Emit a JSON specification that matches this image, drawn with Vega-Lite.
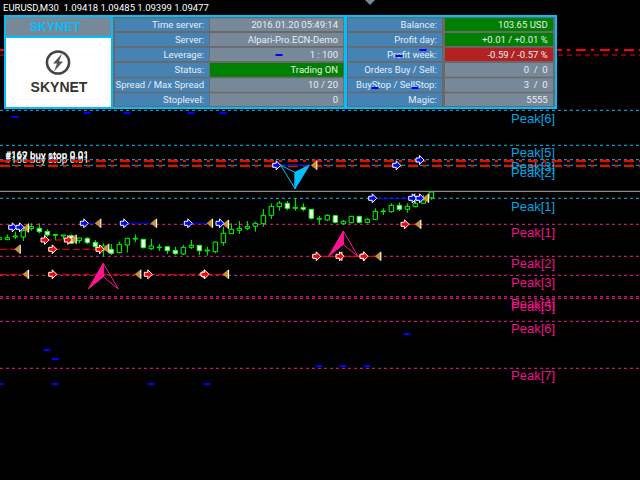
{
"$schema":"https://vega.github.io/schema/vega-lite/v6.json",
"autosize":{"type":"none"},
"width":640,"height":480,"padding":0,"background":"#000000",
"config":{"view":{"stroke":null}},
"datasets":{
"levels":[{"y":1.10294,"side":"buy"},{"y":1.09944,"side":"buy"},{"y":1.09800,"side":"buy"},{"y":1.09744,"side":"buy"},{"y":1.09414,"side":"buy"},{"y":1.09154,"side":"sell"},{"y":1.08834,"side":"sell"},{"y":1.08644,"side":"sell"},{"y":1.08430,"side":"sell"},{"y":1.08414,"side":"sell"},{"y":1.08184,"side":"sell"},{"y":1.07714,"side":"sell"}],
"candles":[
{"x":0,"high":1.09047,"open":1.09000,"close":1.09020,"low":1.08997},
{"x":1,"high":1.09053,"open":1.09000,"close":1.09020,"low":1.08997},
{"x":2,"high":1.09080,"open":1.09027,"close":1.09037,"low":1.09007},
{"x":3,"high":1.09117,"open":1.09027,"close":1.09090,"low":1.08987},
{"x":4,"high":1.09164,"open":1.09110,"close":1.09130,"low":1.09090},
{"x":5,"high":1.09164,"open":1.09114,"close":1.09080,"low":1.09064},
{"x":6,"high":1.09104,"open":1.09084,"close":1.09047,"low":1.09030},
{"x":7,"high":1.09053,"open":1.09044,"close":1.09053,"low":1.08997},
{"x":8,"high":1.09047,"open":1.09037,"close":1.09047,"low":1.09004},
{"x":9,"high":1.09053,"open":1.09040,"close":1.08964,"low":1.08957},
{"x":10,"high":1.09017,"open":1.08990,"close":1.09017,"low":1.08964},
{"x":11,"high":1.09024,"open":1.09014,"close":1.08970,"low":1.08957},
{"x":12,"high":1.08997,"open":1.08974,"close":1.08930,"low":1.08914},
{"x":13,"high":1.08964,"open":1.08897,"close":1.08937,"low":1.08831},
{"x":14,"high":1.08957,"open":1.08904,"close":1.08864,"low":1.08847},
{"x":15,"high":1.08981,"open":1.08871,"close":1.08954,"low":1.08864},
{"x":16,"high":1.09014,"open":1.08947,"close":1.09014,"low":1.08871},
{"x":17,"high":1.09053,"open":1.09007,"close":1.09014,"low":1.08974},
{"x":18,"high":1.09007,"open":1.09004,"close":1.08920,"low":1.08914},
{"x":19,"high":1.09007,"open":1.08910,"close":1.08937,"low":1.08897},
{"x":20,"high":1.08957,"open":1.08920,"close":1.08927,"low":1.08887},
{"x":21,"high":1.08930,"open":1.08930,"close":1.08890,"low":1.08857},
{"x":22,"high":1.08930,"open":1.08894,"close":1.08860,"low":1.08847},
{"x":23,"high":1.08947,"open":1.08857,"close":1.08924,"low":1.08847},
{"x":24,"high":1.08997,"open":1.08924,"close":1.08944,"low":1.08907},
{"x":25,"high":1.08944,"open":1.08944,"close":1.08890,"low":1.08847},
{"x":26,"high":1.08930,"open":1.08887,"close":1.08897,"low":1.08840},
{"x":27,"high":1.08981,"open":1.08880,"close":1.08977,"low":1.08864},
{"x":28,"high":1.09130,"open":1.08970,"close":1.09064,"low":1.08940},
{"x":29,"high":1.09164,"open":1.09060,"close":1.09104,"low":1.09057},
{"x":30,"high":1.09187,"open":1.09094,"close":1.09114,"low":1.09057},
{"x":31,"high":1.09187,"open":1.09114,"close":1.09134,"low":1.09097},
{"x":32,"high":1.09180,"open":1.09134,"close":1.09164,"low":1.09080},
{"x":33,"high":1.09307,"open":1.09160,"close":1.09244,"low":1.09130},
{"x":34,"high":1.09364,"open":1.09244,"close":1.09334,"low":1.09207},
{"x":35,"high":1.09387,"open":1.09330,"close":1.09367,"low":1.09290},
{"x":36,"high":1.09387,"open":1.09364,"close":1.09314,"low":1.09297},
{"x":37,"high":1.09414,"open":1.09314,"close":1.09324,"low":1.09290},
{"x":38,"high":1.09364,"open":1.09324,"close":1.09304,"low":1.09284},
{"x":39,"high":1.09307,"open":1.09304,"close":1.09214,"low":1.09204},
{"x":40,"high":1.09237,"open":1.09204,"close":1.09214,"low":1.09157},
{"x":41,"high":1.09254,"open":1.09197,"close":1.09244,"low":1.09187},
{"x":42,"high":1.09247,"open":1.09240,"close":1.09174,"low":1.09164},
{"x":43,"high":1.09197,"open":1.09160,"close":1.09184,"low":1.09147},
{"x":44,"high":1.09237,"open":1.09170,"close":1.09234,"low":1.09164},
{"x":45,"high":1.09237,"open":1.09234,"close":1.09174,"low":1.09164},
{"x":46,"high":1.09214,"open":1.09174,"close":1.09204,"low":1.09164},
{"x":47,"high":1.09314,"open":1.09204,"close":1.09284,"low":1.09197},
{"x":48,"high":1.09314,"open":1.09280,"close":1.09287,"low":1.09247},
{"x":49,"high":1.09364,"open":1.09280,"close":1.09344,"low":1.09270},
{"x":50,"high":1.09374,"open":1.09344,"close":1.09304,"low":1.09287},
{"x":51,"high":1.09364,"open":1.09304,"close":1.09334,"low":1.09270},
{"x":52,"high":1.09380,"open":1.09330,"close":1.09364,"low":1.09324},
{"x":53,"high":1.09447,"open":1.09364,"close":1.09397,"low":1.09364},
{"x":54,"high":1.09485,"open":1.09418,"close":1.09477,"low":1.09399}],
"blueArrows":[{"x":1.67,"y":1.09124},{"x":2.58,"y":1.09124},{"x":10.62,"y":1.09164},{"x":15.62,"y":1.09164},{"x":23.62,"y":1.09164},{"x":27.58,"y":1.09164},{"x":34.67,"y":1.09744},{"x":49.67,"y":1.09744},{"x":52.58,"y":1.09797},{"x":46.67,"y":1.09414},{"x":51.67,"y":1.09414},{"x":52.58,"y":1.09414}],
"redArrows":[{"x":5.71,"y":1.08997},{"x":8.62,"y":1.08997},{"x":6.67,"y":1.08904},{"x":12.58,"y":1.08904},{"x":6.67,"y":1.08654},{"x":18.62,"y":1.08654},{"x":25.71,"y":1.08654},{"x":50.71,"y":1.09154},{"x":39.67,"y":1.08834},{"x":42.58,"y":1.08834},{"x":45.58,"y":1.08834}],
"closes":[{"x":3.21,"y":1.09117},{"x":12.24,"y":1.09164},{"x":19.21,"y":1.09164},{"x":26.21,"y":1.09164},{"x":28.21,"y":1.09154},{"x":9.17,"y":1.09004},{"x":2.17,"y":1.08904},{"x":13.24,"y":1.08914},{"x":3.21,"y":1.08654},{"x":17.24,"y":1.08654},{"x":25.21,"y":1.08654},{"x":28.21,"y":1.08654},{"x":39.24,"y":1.09744},{"x":51.49,"y":1.09414},{"x":53.21,"y":1.09414},{"x":52.24,"y":1.09154},{"x":42.37,"y":1.08834},{"x":45.17,"y":1.08834},{"x":47.24,"y":1.08834}],
"tradeBlue":[{"x":1.67,"x2":3.21,"y":1.09124},{"x":10.62,"x2":12.24,"y":1.09164},{"x":15.62,"x2":19.21,"y":1.09164},{"x":23.62,"x2":26.21,"y":1.09164},{"x":27.58,"x2":28.21,"y":1.09164},{"x":34.67,"x2":39.24,"y":1.09744},{"x":46.67,"x2":51.49,"y":1.09414},{"x":51.67,"x2":53.21,"y":1.09414}],
"tradeRedBroken":[{"x":5.71,"x2":9.17,"y":1.08997},{"x":0.08,"x2":2.17,"y":1.08904},{"x":6.67,"x2":13.24,"y":1.08904},{"x":0.08,"x2":3.21,"y":1.08654},{"x":6.67,"x2":17.24,"y":1.08654},{"x":18.62,"x2":25.21,"y":1.08654},{"x":25.71,"x2":28.21,"y":1.08654}],
"tradeRed":[{"x":50.71,"x2":52.24,"y":1.09154},{"x":39.67,"x2":42.37,"y":1.08834},{"x":42.58,"x2":45.17,"y":1.08834},{"x":45.58,"x2":47.24,"y":1.08834}],
"ticks":[{"x":34.955,"y":1.10847},{"x":1.955,"y":1.10227},{"x":10.955,"y":1.10267},{"x":15.955,"y":1.10267},{"x":23.955,"y":1.10267},{"x":27.955,"y":1.10267},{"x":52.955,"y":1.10897},{"x":49.955,"y":1.10837},{"x":46.955,"y":1.10517},{"x":51.955,"y":1.10517},{"x":5.955,"y":1.07897},{"x":6.955,"y":1.07807},{"x":0.08,"y":1.07557},{"x":6.955,"y":1.07557},{"x":18.955,"y":1.07557},{"x":25.955,"y":1.07557},{"x":39.955,"y":1.07737},{"x":42.955,"y":1.07737},{"x":45.955,"y":1.07737},{"x":50.955,"y":1.08057}],
"cells":[
{"x":0.58,"x2":69.705,"y":1.11247,"y2":1.10307,"kind":"frame"},
{"x":0.83,"x2":13.955,"y":1.11227,"y2":1.11037,"kind":"value"},
{"x":0.83,"x2":13.955,"y":1.11017,"y2":1.10327,"kind":"logo"},
{"x":14.205,"x2":43.08,"y":1.11227,"y2":1.10327,"kind":"bg"},
{"x":43.455,"x2":69.455,"y":1.11227,"y2":1.10327,"kind":"bg"},
{"x":14.455,"x2":26.24,"y":1.11214,"y2":1.11087,"kind":"label"},
{"x":14.455,"x2":26.24,"y":1.11067,"y2":1.10937,"kind":"label"},
{"x":14.455,"x2":26.24,"y":1.10920,"y2":1.10787,"kind":"label"},
{"x":14.455,"x2":26.24,"y":1.10767,"y2":1.10630,"kind":"label"},
{"x":14.455,"x2":26.24,"y":1.10614,"y2":1.10480,"kind":"label"},
{"x":14.455,"x2":26.24,"y":1.10464,"y2":1.10337,"kind":"label"},
{"x":26.33,"x2":42.99,"y":1.11214,"y2":1.11087,"kind":"value"},
{"x":26.33,"x2":42.99,"y":1.11067,"y2":1.10937,"kind":"value"},
{"x":26.33,"x2":42.99,"y":1.10920,"y2":1.10787,"kind":"value"},
{"x":26.33,"x2":42.99,"y":1.10767,"y2":1.10630,"kind":"good"},
{"x":26.33,"x2":42.99,"y":1.10614,"y2":1.10480,"kind":"value"},
{"x":26.33,"x2":42.99,"y":1.10464,"y2":1.10337,"kind":"value"},
{"x":43.58,"x2":55.33,"y":1.11214,"y2":1.11087,"kind":"label"},
{"x":43.58,"x2":55.33,"y":1.11067,"y2":1.10937,"kind":"label"},
{"x":43.58,"x2":55.33,"y":1.10920,"y2":1.10787,"kind":"label"},
{"x":43.58,"x2":55.33,"y":1.10767,"y2":1.10630,"kind":"label"},
{"x":43.58,"x2":55.33,"y":1.10614,"y2":1.10480,"kind":"label"},
{"x":43.58,"x2":55.33,"y":1.10464,"y2":1.10337,"kind":"label"},
{"x":55.705,"x2":69.205,"y":1.11214,"y2":1.11087,"kind":"good"},
{"x":55.705,"x2":69.205,"y":1.11067,"y2":1.10937,"kind":"good"},
{"x":55.705,"x2":69.205,"y":1.10920,"y2":1.10787,"kind":"bad"},
{"x":55.705,"x2":69.205,"y":1.10767,"y2":1.10630,"kind":"value"},
{"x":55.705,"x2":69.205,"y":1.10614,"y2":1.10480,"kind":"value"},
{"x":55.705,"x2":69.205,"y":1.10464,"y2":1.10337,"kind":"value"}],
"panelText":[
{"x":25.58,"y":1.11147,"t":"Time server:"},{"x":25.58,"y":1.11000,"t":"Server:"},{"x":25.58,"y":1.10850,"t":"Leverage:"},{"x":25.58,"y":1.10700,"t":"Status:"},{"x":25.58,"y":1.10550,"t":"Spread / Max Spread"},{"x":25.58,"y":1.10400,"t":"Stoplevel:"},
{"x":42.33,"y":1.11147,"t":"2016.01.20 05:49:14"},{"x":42.33,"y":1.11000,"t":"Alpari-Pro.ECN-Demo"},{"x":42.33,"y":1.10850,"t":"1 : 100"},{"x":42.33,"y":1.10700,"t":"Trading ON"},{"x":42.33,"y":1.10550,"t":"10 / 20"},{"x":42.33,"y":1.10400,"t":"0"},
{"x":54.67,"y":1.11147,"t":"Balance:"},{"x":54.67,"y":1.11000,"t":"Profit day:"},{"x":54.67,"y":1.10850,"t":"Profit week:"},{"x":54.67,"y":1.10700,"t":"Orders Buy / Sell:"},{"x":54.67,"y":1.10550,"t":"BuyStop / SellStop:"},{"x":54.67,"y":1.10400,"t":"Magic:"},
{"x":68.54,"y":1.11147,"t":"103.65 USD"},{"x":68.54,"y":1.11000,"t":"+0.01 / +0.01 %"},{"x":68.54,"y":1.10850,"t":"-0.59 / -0.57 %"},{"x":68.54,"y":1.10700,"t":"0 \u00a0/\u00a0 0"},{"x":68.54,"y":1.10550,"t":"3 \u00a0/\u00a0 0"},{"x":68.54,"y":1.10400,"t":"5555"}],
"peakText":[
{"x":63.955,"y":1.10210,"t":"Peak[6]","side":"buy"},{"x":63.955,"y":1.09864,"t":"Peak[5]","side":"buy"},{"x":63.955,"y":1.09724,"t":"Peak[3]","side":"buy"},{"x":63.955,"y":1.09670,"t":"Peak[2]","side":"buy"},{"x":63.955,"y":1.09330,"t":"Peak[1]","side":"buy"},
{"x":63.955,"y":1.09070,"t":"Peak[1]","side":"sell"},{"x":63.955,"y":1.08754,"t":"Peak[2]","side":"sell"},{"x":63.955,"y":1.08564,"t":"Peak[3]","side":"sell"},{"x":63.955,"y":1.08357,"t":"Peak[4]","side":"sell"},{"x":63.955,"y":1.08330,"t":"Peak[5]","side":"sell"},{"x":63.955,"y":1.08104,"t":"Peak[6]","side":"sell"},{"x":63.955,"y":1.07637,"t":"Peak[7]","side":"sell"}]
},
"encoding":{
"x":{"field":"x","type":"quantitative","scale":{"domain":[0.08,80.08],"nice":false,"zero":false,"padding":0},"axis":null},
"y":{"field":"y","type":"quantitative","scale":{"domain":[1.06597,1.11397],"nice":false,"zero":false,"padding":0},"axis":null}
},
"layer":[
{"data":{"values":[{"x":0.705,"y":1.09847,"t":"#169 buy stop 0.01"},{"x":0.705,"y":1.09837,"t":"#167 buy stop 0.01"},{"x":0.705,"y":1.09797,"t":"#166 buy stop 0.01"}]},
 "mark":{"type":"text","align":"left","baseline":"middle","font":"Roboto","fontSize":9.8,"fill":"#ffffff"},
 "encoding":{"text":{"field":"t"}}},
{"data":{"name":"levels"},
 "mark":{"type":"rule","strokeWidth":1,"strokeDash":[3,3]},
 "encoding":{"x":{"value":0},"x2":{"value":640},"color":{"field":"side","type":"nominal","scale":{"domain":["buy","sell"],"range":["#00bfff","#ff1493"]},"legend":null}}},
{"data":{"values":[{"y":1.09780},{"y":1.09730}]},
 "mark":{"type":"rule","strokeWidth":1,"stroke":"#00a000","strokeDash":[10,5,3,6]},
 "encoding":{"x":{"value":0},"x2":{"value":640}}},
{"data":{"values":[{"y":1.09790},{"y":1.09740},{"y":1.10897}]},
 "mark":{"type":"rule","strokeWidth":2,"stroke":"#ff0000","strokeDash":[10,5,3,6]},
 "encoding":{"x":{"value":0},"x2":{"value":640}}},
{"data":{"values":[{"y":1.10847}]},
 "mark":{"type":"rule","strokeWidth":1,"stroke":"#ff0000","strokeDash":[5,4]},
 "encoding":{"x":{"value":0},"x2":{"value":640}}},
{"data":{"values":[{"y":1.09484}]},
 "mark":{"type":"rule","strokeWidth":1,"stroke":"#b0b0b0"},
 "encoding":{"x":{"value":0},"x2":{"value":640}}},
{"data":{"name":"candles"},
 "mark":{"type":"rule","stroke":"#00ff00","strokeWidth":1},
 "encoding":{"y":{"field":"high","type":"quantitative","scale":{"domain":[1.06597,1.11397],"nice":false,"zero":false,"padding":0},"axis":null},"y2":{"field":"low"}}},
{"data":{"name":"candles"},
 "mark":{"type":"bar","width":4.5,"stroke":"#00ff00","strokeWidth":1},
 "encoding":{"y":{"field":"open","type":"quantitative","scale":{"domain":[1.06597,1.11397],"nice":false,"zero":false,"padding":0},"axis":null},"y2":{"field":"close"},
 "fill":{"condition":{"test":"datum.close<datum.open","value":"#ffffff"},"value":"#000000"}}},
{"data":{"name":"tradeBlue"},
 "mark":{"type":"rule","stroke":"#0000ff","strokeWidth":1},
 "encoding":{"x2":{"field":"x2"}}},
{"data":{"name":"tradeRed"},
 "mark":{"type":"rule","stroke":"#ff0000","strokeWidth":1},
 "encoding":{"x2":{"field":"x2"}}},
{"data":{"name":"tradeRedBroken"},
 "mark":{"type":"rule","stroke":"#ff0000","strokeWidth":1,"strokeDash":[7,3]},
 "encoding":{"x2":{"field":"x2"}}},
{"data":{"name":"closes"},
 "mark":{"type":"point","filled":true,"size":4,"shape":"M3,-4.5L-2.5,0L3,4.5Z","fill":"#c8922e","opacity":1}},
{"data":{"name":"closes"},
 "mark":{"type":"point","filled":false,"size":4,"shape":"M3.5,-4.5L3.5,4.5","stroke":"#ffffff","strokeWidth":1.2,"opacity":1}},
{"data":{"name":"blueArrows"},
 "mark":{"type":"point","filled":true,"size":4,"shape":"M-4,-2L-0.5,-2L-0.5,-4.5L4,0L-0.5,4.5L-0.5,2L-4,2Z","fill":"#0000ff","stroke":"#ffffff","strokeWidth":1,"opacity":1}},
{"data":{"name":"redArrows"},
 "mark":{"type":"point","filled":true,"size":4,"shape":"M-4,-2L-0.5,-2L-0.5,-4.5L4,0L-0.5,4.5L-0.5,2L-4,2Z","fill":"#ff0000","stroke":"#ffffff","strokeWidth":1,"opacity":1}},
{"data":{"values":[{"x":12.99,"y":1.08764},{"x":42.99,"y":1.09087}]},
 "mark":{"type":"point","filled":true,"size":4,"shape":"M0,0L-15,25.7L0,13.4Z","fill":"#ff1493","stroke":"#ff1493","strokeWidth":1,"opacity":1}},
{"data":{"values":[{"x":12.99,"y":1.08764},{"x":42.99,"y":1.09087}]},
 "mark":{"type":"point","filled":false,"size":4,"shape":"M0,0L15,25.7L0,13.4Z","stroke":"#ff1493","strokeWidth":1,"opacity":1}},
{"data":{"values":[{"x":36.96,"y":1.09510}]},
 "mark":{"type":"point","filled":true,"size":4,"shape":"M0,0L14.3,-23.4L0,-16.4Z","fill":"#00bfff","stroke":"#00bfff","strokeWidth":1,"opacity":1}},
{"data":{"values":[{"x":36.96,"y":1.09510}]},
 "mark":{"type":"point","filled":false,"size":4,"shape":"M0,0L-14.3,-23.4L0,-16.4Z","stroke":"#00bfff","strokeWidth":1,"opacity":1}},
{"data":{"name":"cells"},
 "mark":{"type":"rect"},
 "encoding":{"x2":{"field":"x2"},"y2":{"field":"y2"},
 "fill":{"field":"kind","type":"nominal","scale":{"domain":["frame","bg","label","value","logo","good","bad"],"range":["#00bfff","#696969","#4682b4","#778899","#ffffff","#008000","#b22222"]},"legend":null}}},
{"data":{"name":"panelText"},
 "mark":{"type":"text","align":"right","baseline":"middle","font":"Roboto","fontSize":9.5,"fill":"#e8eef4"},
 "encoding":{"text":{"field":"t"}}},
{"data":{"values":[{"x":6.955,"y":1.11127,"t":"SKYNET"}]},
 "mark":{"type":"text","align":"center","baseline":"middle","font":"Liberation Sans","fontWeight":"bold","fontSize":12.5,"fill":"#00bfff"},
 "encoding":{"text":{"field":"t"}}},
{"data":{"values":[{"x":7.455,"y":1.10517,"t":"SKYNET"}]},
 "mark":{"type":"text","align":"center","baseline":"middle","font":"Liberation Sans","fontWeight":"bold","fontSize":14,"fill":"#333333"},
 "encoding":{"text":{"field":"t"}}},
{"data":{"values":[{"x":7.33,"y":1.10772}]},
 "mark":{"type":"point","filled":false,"shape":"circle","size":490,"stroke":"#444444","strokeWidth":2.5,"opacity":1}},
{"data":{"values":[{"x":7.33,"y":1.10772}]},
 "mark":{"type":"point","filled":true,"size":4,"shape":"M4,-9L-5,1L-1,1L-4,9L5,-1L1,-1Z","fill":"#555555","opacity":1}},
{"data":{"name":"ticks"},
 "mark":{"type":"tick","orient":"horizontal","size":7,"thickness":2,"color":"#0000ff","opacity":1}},
{"data":{"name":"peakText"},
 "mark":{"type":"text","align":"left","baseline":"middle","font":"Liberation Sans","fontSize":13},
 "encoding":{"text":{"field":"t"},"color":{"field":"side","type":"nominal","scale":{"domain":["buy","sell"],"range":["#00a8e0","#f0108a"]},"legend":null}}},
{"data":{"values":[{"x":0.455,"y":1.11322,"t":"EURUSD,M30\u00a0 1.09418 1.09485 1.09399 1.09477"}]},
 "mark":{"type":"text","align":"left","baseline":"middle","font":"Roboto","fontSize":9.5,"fill":"#ffffff"},
 "encoding":{"text":{"field":"t"}}},
{"data":{"values":[{"x":46.33,"y":1.11397}]},
 "mark":{"type":"point","filled":true,"size":4,"shape":"M-5,0L5,0L0,5Z","fill":"#778899","opacity":1}}
],
"resolve":{"scale":{"color":"independent","fill":"independent"}}
}
